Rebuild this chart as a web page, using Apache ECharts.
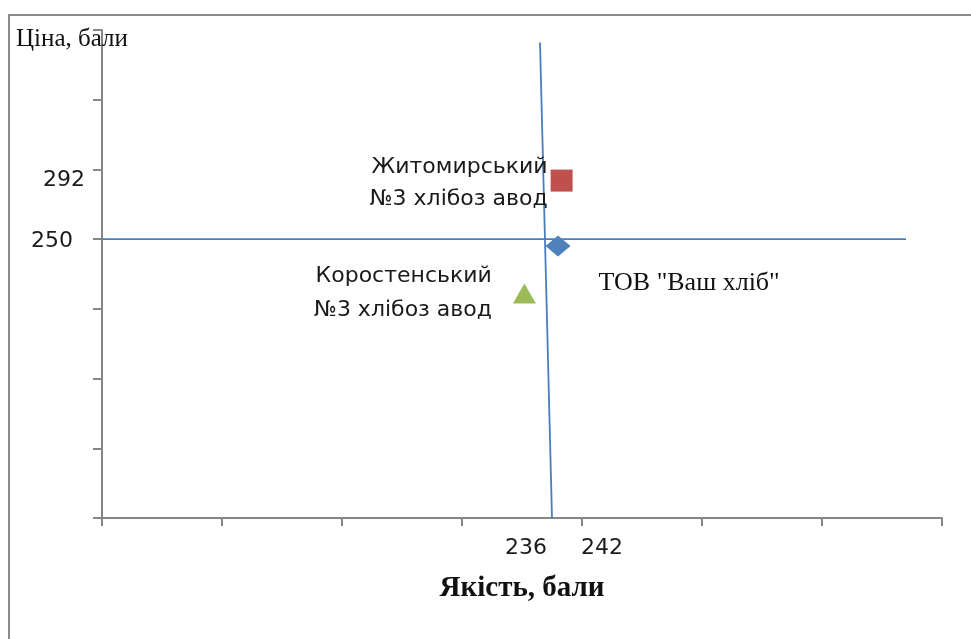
<!DOCTYPE html>
<html>
<head>
<meta charset="utf-8">
<script src="https://cdn.jsdelivr.net/npm/echarts@6/dist/echarts.min.js"></script>
<style>
  html, body { margin: 0; padding: 0; background: #fff; }
  #chart { width: 971px; height: 639px; }
</style>
</head>
<body>
<div id="chart"></div>
<script>
// підприємства: якість (x), ціна (y)
const names = ["ТОВ \"Ваш хліб\"", "Житомирський\n№3 хлібоз авод", "Коростенський\n№3 хлібоз авод"];
const quality = [238.0, 238.3, 235.2];
const price = [245, 292, 211];
const symbols = ["diamond", "rect", "triangle"];
const colors = ["#4F81BD", "#C0504D", "#9BBB59"];

// лінії-перехрестя
const hLine = [[200, 250], [267, 250]];
const vLine = [[236.5, 391], [237.5, 50]];

// підписи осей
const xTickLabels = [236, 242];
const yTickLabels = [250, 292];

const chart = echarts.init(document.getElementById("chart"));

const pointLabels = [
  { show: true, position: "right", distance: 28, offset: [0, 37], fontFamily: "Liberation Serif", fontSize: 26, color: "#111" },
  { show: true, position: "left", distance: 3, align: "right", offset: [0, 3], fontFamily: "DejaVu Sans", fontSize: 22, lineHeight: 32, color: "#1a1a1a" },
  { show: true, position: "left", distance: 21, align: "right", fontFamily: "DejaVu Sans", fontSize: 22, lineHeight: 34, color: "#1a1a1a" },
];
const symbolSizes = [[25, 21], 22, [23, 20]];

chart.setOption({
  animation: false,
  title: {
    text: "Ціна, бали",
    left: 16,
    top: 27,
    padding: 0,
    textStyle: { fontFamily: "Liberation Serif", fontSize: 25, fontWeight: "normal", color: "#111" },
  },
  graphic: [
    {
      type: "rect",
      shape: { x: 9, y: 15, width: 1000, height: 700 },
      style: { fill: "none", stroke: "#8c8c8c", lineWidth: 2 },
      silent: true,
    },
  ],
  grid: { left: 102, right: 29, top: 30, bottom: 121, outerBoundsMode: "none" },
  xAxis: {
    type: "value",
    min: 200,
    max: 270,
    interval: 10,
    name: "Якість, бали",
    nameLocation: "middle",
    nameGap: 56,
    nameTextStyle: { fontFamily: "Liberation Serif", fontSize: 29, fontWeight: "bold", color: "#111" },
    axisLine: { lineStyle: { color: "#868686", width: 2 } },
    axisTick: { length: 8, lineStyle: { color: "#868686", width: 2 } },
    splitLine: { show: false },
    axisLabel: {
      customValues: xTickLabels,
      margin: 19,
      formatter: (v) => (v === 236 ? "{a|" + v + "}" : "{b|" + v + "}"),
      rich: {
        a: { fontFamily: "DejaVu Sans", fontSize: 22, color: "#1a1a1a", padding: [0, 16, 0, 0] },
        b: { fontFamily: "DejaVu Sans", fontSize: 22, color: "#1a1a1a", padding: [0, 8, 0, 0] },
      },
    },
  },
  yAxis: {
    type: "value",
    min: 50,
    max: 400,
    interval: 50,
    axisLine: { lineStyle: { color: "#868686", width: 2 } },
    axisTick: { length: 9, lineStyle: { color: "#868686", width: 2 } },
    splitLine: { show: false },
    axisLabel: {
      customValues: yTickLabels,
      margin: 17,
      formatter: (v) => (v === 250 ? "{b|" + v + "}" : "{a|" + v + "}"),
      rich: {
        a: { fontFamily: "DejaVu Sans", fontSize: 22, color: "#1a1a1a" },
        b: { fontFamily: "DejaVu Sans", fontSize: 22, color: "#1a1a1a", padding: [4, 12, 0, 0] },
      },
    },
  },
  series: [
    {
      type: "line",
      data: hLine,
      symbol: "none",
      lineStyle: { color: "#4A7EBB", width: 1.8 },
      z: 2,
    },
    {
      type: "line",
      data: vLine,
      symbol: "none",
      lineStyle: { color: "#4A7EBB", width: 1.8 },
      z: 2,
    },
    ...names.map((n, i) => ({
      type: "scatter",
      name: n,
      symbol: symbols[i],
      symbolSize: symbolSizes[i],
      itemStyle: { color: colors[i], opacity: 1 },
      label: Object.assign({ formatter: n }, pointLabels[i]),
      data: [[quality[i], price[i]]],
      z: 5,
    })),
  ],
});
</script>
</body>
</html>
